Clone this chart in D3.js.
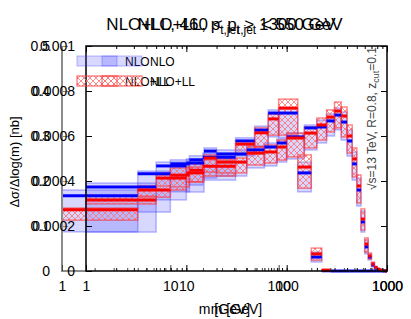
<!DOCTYPE html>
<html>
<head>
<meta charset="UTF-8">
<title>NLO vs NLO+LL jet mass</title>
<script src="https://cdn.jsdelivr.net/npm/d3@7"></script>
<style>
  body { margin: 0; background: #fff; }
  svg text { font-family: "Liberation Sans", Arial, sans-serif; }
</style>
</head>
<body>
<div id="chart"></div>
<script>
// shared mass binning [GeV]
var edges = [1, 5, 10, 15, 20, 40, 60, 80, 100, 150, 200, 250, 300, 350, 400, 450, 500, 550, 600, 650, 700, 750, 800, 850, 900, 950, 1000];

// panel 1 : 460 < pt < 550 GeV  (grey axis, 0 - 0.5 nb)
var loNlo   = [0.167, 0.216, 0.238, 0.247, 0.253, 0.289, 0.313, 0.351, 0.351, 0.218, 0.031, 0.0005, 0, 0, 0, 0, 0, 0, 0, 0, 0, 0, 0, 0, 0, 0];
var loNloUp = [0.180, 0.222, 0.247, 0.256, 0.262, 0.296, 0.322, 0.358, 0.362, 0.242, 0.042, 0.001, 0, 0, 0, 0, 0, 0, 0, 0, 0, 0, 0, 0, 0, 0];
var loNloDn = [0.087, 0.131, 0.176, 0.191, 0.202, 0.256, 0.273, 0.298, 0.296, 0.176, 0.020, 0, 0, 0, 0, 0, 0, 0, 0, 0, 0, 0, 0, 0, 0, 0];
var loLl    = [0.136, 0.180, 0.213, 0.224, 0.233, 0.282, 0.307, 0.338, 0.362, 0.231, 0.038, 0.002];
var loLlUp  = [0.140, 0.189, 0.229, 0.238, 0.247, 0.289, 0.318, 0.349, 0.382, 0.258, 0.051, 0.003];
var loLlDn  = [0.113, 0.164, 0.187, 0.198, 0.211, 0.260, 0.276, 0.302, 0.302, 0.184, 0.024, 0.001];

// panel 2 : pt > 1300 GeV  (black frame, 0 - 0.001 nb)
var hiNlo   = [0.000373, 0.000467, 0.000480, 0.000533, 0.000520, 0.000538, 0.000551, 0.000569, 0.000596, 0.000636, 0.000640, 0.000667, 0.000693, 0.000662, 0.000578, 0.000476, 0.000360, 0.000218, 0.000107, 0.000062, 0.000027, 0.000013, 0.000007, 0.000003, 0.000001, 0.0000004];
var hiNloUp = [0.000391, 0.000484, 0.000498, 0.000547, 0.000538, 0.000556, 0.000569, 0.000587, 0.000613, 0.000649, 0.000671, 0.000698, 0.000724, 0.000707, 0.000627, 0.000529, 0.000413, 0.000267, 0.000138, 0.000076, 0.000036, 0.000018, 0.000010, 0.000005, 0.000002, 0.000001];
var hiNloDn = [0.000173, 0.000316, 0.000351, 0.000413, 0.000422, 0.000458, 0.000467, 0.000484, 0.000498, 0.000538, 0.000569, 0.000600, 0.000627, 0.000582, 0.000511, 0.000404, 0.000289, 0.000173, 0.000076, 0.000049, 0.000018, 0.000009, 0.000004, 0.000002, 0.0000005, 0.0000002];
var hiLl    = [0.000316, 0.000413, 0.000436, 0.000502, 0.000484, 0.000524, 0.000529, 0.000551, 0.000591, 0.000613, 0.000649, 0.000684, 0.000711, 0.000689, 0.000600, 0.000498, 0.000378, 0.000231, 0.000120, 0.000067, 0.000031, 0.000016, 0.000008, 0.000004, 0.0000015, 0.0000005];
var hiLlUp  = [0.000333, 0.000427, 0.000462, 0.000516, 0.000502, 0.000551, 0.000560, 0.000582, 0.000613, 0.000640, 0.000680, 0.000716, 0.000751, 0.000729, 0.000649, 0.000547, 0.000427, 0.000276, 0.000147, 0.000080, 0.000040, 0.000020, 0.000011, 0.000006, 0.0000025, 0.000001];
var hiLlDn  = [0.000298, 0.000360, 0.000396, 0.000440, 0.000436, 0.000471, 0.000480, 0.000493, 0.000507, 0.000547, 0.000582, 0.000618, 0.000636, 0.000596, 0.000524, 0.000418, 0.000302, 0.000182, 0.000084, 0.000053, 0.000022, 0.000011, 0.000005, 0.000002, 0.0000008, 0.0000003];

var xTicks   = [1, 10, 100, 1000];
var loYTicks = [0, 0.1, 0.2, 0.3, 0.4, 0.5];
var hiYTicks = [0, 0.0002, 0.0004, 0.0006, 0.0008, 0.001];
var legendNames = ["NLO", "NLO+LL"];
var loTitle = ["NLO+LL, 460 < p", "t,jet", " < 550 GeV"];
var hiTitle = ["NLO+LL, p", "t,jet", " > 1300 GeV"];

var W = 411, H = 319;
var frameTop = 46, frameBottom = 271, frameRight = 387;

var svg = d3.select("#chart").append("svg").attr("width", W).attr("height", H);

var pat = svg.append("defs").append("pattern").attr("id", "hatch")
    .attr("patternUnits", "userSpaceOnUse").attr("width", 6).attr("height", 6);
pat.append("path").attr("d", "M0,0L6,6M6,0L0,6M-1,5L1,7M5,-1L7,1")
    .attr("stroke", "#ff6e6e").attr("stroke-width", 0.8).attr("fill", "none");

var lo = {
    x: d3.scaleLog().domain([1, 1000]).range([62, frameRight]),
    y: d3.scaleLinear().domain([0, 0.5]).range([frameBottom, frameTop]),
    nlo: loNlo, nloUp: loNloUp, nloDn: loNloDn, ll: loLl, llUp: loLlUp, llDn: loLlDn
};
var hi = {
    x: d3.scaleLog().domain([1, 1000]).range([86, frameRight]),
    y: d3.scaleLinear().domain([0, 0.001]).range([frameBottom, frameTop]),
    nlo: hiNlo, nloUp: hiNloUp, nloDn: hiNloDn, ll: hiLl, llUp: hiLlUp, llDn: hiLlDn
};

function bins(p) {
    return d3.range(edges.length - 1).map(function(i) {
        return { lo: edges[i], hi: edges[i + 1], nlo: p.nlo[i], nloUp: p.nloUp[i], nloDn: p.nloDn[i],
                 ll: p.ll[i], llUp: p.llUp[i], llDn: p.llDn[i] };
    });
}
lo.bins = bins(lo);
hi.bins = bins(hi);

var gData = svg.append("g");

// blue NLO bands
[lo, hi].forEach(function(p) {
    gData.append("g").selectAll("rect").data(p.bins.filter(function(d) { return d.nloUp > d.nloDn; }))
        .enter().append("rect")
        .attr("x", function(d) { return p.x(d.lo); })
        .attr("width", function(d) { return p.x(d.hi) - p.x(d.lo); })
        .attr("y", function(d) { return p.y(d.nloUp); })
        .attr("height", function(d) { return p.y(d.nloDn) - p.y(d.nloUp); })
        .attr("fill", "rgba(60,60,255,0.2)")
        .attr("stroke", "rgba(60,60,255,0.35)").attr("stroke-width", 1.5);
});
// red hatched NLO+LL bands
[lo, hi].forEach(function(p) {
    gData.append("g").selectAll("rect").data(p.bins.filter(function(d) { return d.ll != null; }))
        .enter().append("rect")
        .attr("x", function(d) { return p.x(d.lo); })
        .attr("width", function(d) { return p.x(d.hi) - p.x(d.lo); })
        .attr("y", function(d) { return p.y(d.llUp); })
        .attr("height", function(d) { return p.y(d.llDn) - p.y(d.llUp); })
        .attr("fill", "url(#hatch)")
        .attr("stroke", "rgba(255,40,40,0.55)").attr("stroke-width", 1.5);
});
// central values
[["nlo", "#0000ff"], ["ll", "#ff0000"]].forEach(function(s) {
    [lo, hi].forEach(function(p) {
        gData.append("g").selectAll("line").data(p.bins.filter(function(d) { return d[s[0]] != null; }))
            .enter().append("line")
            .attr("x1", function(d) { return p.x(d.lo); })
            .attr("x2", function(d) { return p.x(d.hi); })
            .attr("y1", function(d) { return p.y(d[s[0]]); })
            .attr("y2", function(d) { return p.y(d[s[0]]); })
            .attr("stroke", s[1]).attr("stroke-width", 3);
    });
});

function styleAxis(g, col) {
    g.select(".domain").remove();
    g.selectAll("line").attr("stroke", col);
    g.selectAll("text").attr("fill", "#000").style("font-size", "14px")
        .style("font-family", "'Liberation Sans', Arial, sans-serif");
}

// grey panel axes
var gLoY = svg.append("g").attr("transform", "translate(62,0)")
    .call(d3.axisLeft(lo.y).tickValues(loYTicks).tickSize(-6).tickPadding(12).tickFormat(d3.format("")));
styleAxis(gLoY, "#888");
svg.append("path").attr("d", "M62," + frameTop + "V" + frameBottom + "H86")
    .attr("fill", "none").attr("stroke", "#8c8c8c").attr("stroke-width", 2);
var gLoXm = svg.append("g").attr("transform", "translate(0," + frameBottom + ")")
    .call(d3.axisBottom(lo.x).tickSize(-3).tickFormat(""));
styleAxis(gLoXm, "#444");
var gLoX = svg.append("g").attr("transform", "translate(0," + frameBottom + ")")
    .call(d3.axisBottom(lo.x).tickValues(xTicks).tickSize(-6).tickPadding(10).tickFormat(d3.format("d")));
styleAxis(gLoX, "#444");

// black panel frame and axes
svg.append("rect").attr("x", 86).attr("y", frameTop).attr("width", frameRight - 86).attr("height", frameBottom - frameTop)
    .attr("fill", "none").attr("stroke", "#000").attr("stroke-width", 1.5);
var gHiY = svg.append("g").attr("transform", "translate(86,0)")
    .call(d3.axisLeft(hi.y).tickValues(hiYTicks).tickSize(-6).tickPadding(11).tickFormat(d3.format("")));
styleAxis(gHiY, "#000");
var gHiR = svg.append("g").attr("transform", "translate(" + frameRight + ",0)")
    .call(d3.axisRight(hi.y).tickValues(hiYTicks).tickSize(-6).tickFormat(""));
styleAxis(gHiR, "#000");
var gHiXm = svg.append("g").attr("transform", "translate(0," + frameBottom + ")")
    .call(d3.axisBottom(hi.x).tickSize(-3).tickFormat(""));
styleAxis(gHiXm, "#000");
var gHiX = svg.append("g").attr("transform", "translate(0," + frameBottom + ")")
    .call(d3.axisBottom(hi.x).tickValues(xTicks).tickSize(-6).tickPadding(10).tickFormat(d3.format("d")));
styleAxis(gHiX, "#000");
var gHiTm = svg.append("g").attr("transform", "translate(0," + frameTop + ")")
    .call(d3.axisTop(hi.x).tickSize(-3).tickFormat(""));
styleAxis(gHiTm, "#000");
var gHiT = svg.append("g").attr("transform", "translate(0," + frameTop + ")")
    .call(d3.axisTop(hi.x).tickValues(xTicks).tickSize(-6).tickFormat(""));
styleAxis(gHiT, "#000");

// titles, axis labels, legends of both panels
[lo, hi].forEach(function(p, k) {
    var cx = (p.x.range()[0] + p.x.range()[1]) / 2;
    var t = svg.append("text").attr("x", cx).attr("y", 30).attr("text-anchor", "middle")
        .style("font-size", "17px");
    var parts = k === 0 ? loTitle : hiTitle;
    t.append("tspan").text(parts[0]);
    t.append("tspan").attr("dy", 4).style("font-size", "12px").text(parts[1]);
    t.append("tspan").attr("dy", -4).text(parts[2]);

    svg.append("text").attr("x", cx).attr("y", 314).attr("text-anchor", "middle")
        .style("font-size", "14px").text("m [GeV]");

    var lx = 77 + 25 * k;
    svg.append("rect").attr("x", lx).attr("y", 56).attr("width", 40).attr("height", 10)
        .attr("fill", "rgba(60,60,255,0.2)").attr("stroke", "rgba(60,60,255,0.35)");
    svg.append("rect").attr("x", lx).attr("y", 76).attr("width", 40).attr("height", 10)
        .attr("fill", "url(#hatch)").attr("stroke", "rgba(255,40,40,0.55)").attr("stroke-width", 1.5);
    legendNames.forEach(function(n, i) {
        svg.append("text").attr("x", lx + 48).attr("y", 66 + 20 * i)
            .style("font-size", "12px").text(n);
    });
});

svg.append("text").attr("transform", "translate(19,162) rotate(-90)").attr("text-anchor", "middle")
    .style("font-size", "13px").text("Δσ/Δlog(m) [nb]");

var side = svg.append("text").attr("transform", "translate(376,47) rotate(-90)")
    .attr("text-anchor", "end").attr("fill", "#444").style("font-size", "12px");
side.append("tspan").text("√s=13 TeV, R=0.8, z");
side.append("tspan").attr("dy", 3).style("font-size", "9px").text("cut");
side.append("tspan").attr("dy", -3).text("=0.1");
</script>
</body>
</html>
